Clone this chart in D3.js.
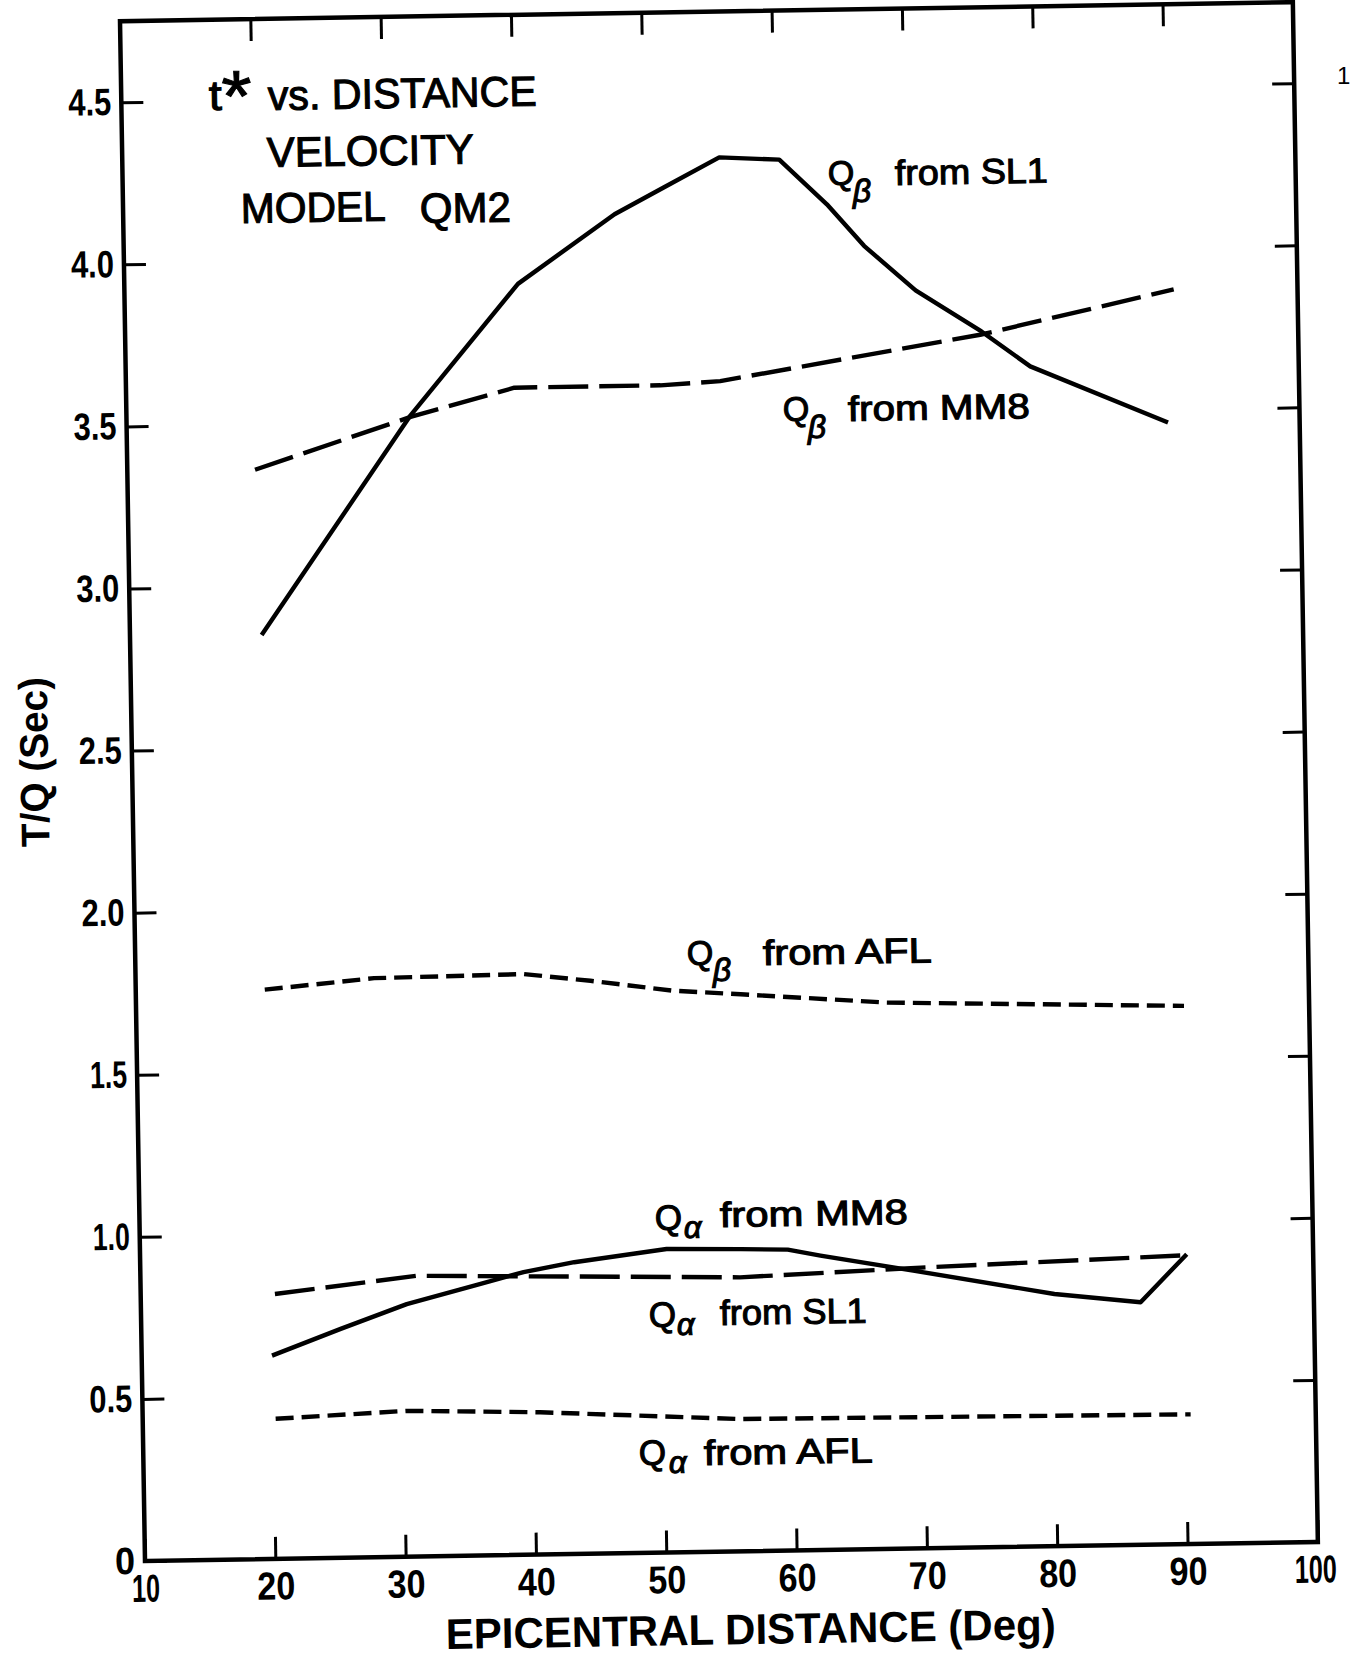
<!DOCTYPE html>
<html><head><meta charset="utf-8">
<script src="https://cdn.jsdelivr.net/npm/d3@7"></script>
<style>
html,body{margin:0;padding:0;background:#fff;}
svg{display:block;background:#fff;}
text{font-family:"Liberation Sans",Arial,sans-serif;fill:#000;}
</style></head><body>
<svg id="chart" width="1353" height="1660"></svg>
<script>
// ---------------- data ----------------
const xTickValues = [10,20,30,40,50,60,70,80,90,100];
const xTickLabels = ["10","20","30","40","50","60","70","80","90","100"];
const yTickValues = [0,0.5,1.0,1.5,2.0,2.5,3.0,3.5,4.0,4.5];
const yTickLabels = ["0","0.5","1.0","1.5","2.0","2.5","3.0","3.5","4.0","4.5"];

// [epicentral distance (deg), T/Q (sec)]
const qBetaSL1 = [[20.1,2.85],[31.8,3.52],[40.2,3.92],[47.7,4.13],[51.5,4.21],[55.8,4.30],[60.4,4.29],[64.0,4.15],[66.8,4.02],[70.7,3.88],[75.7,3.75],[79.4,3.64],[89.9,3.46]];
const qBetaMM8 = [[19.8,3.36],[31.8,3.515],[39.8,3.60],[51.0,3.60],[55.6,3.61],[75.6,3.74],[90.5,3.87]];
const qBetaAFL = [[19.9,1.756],[28.3,1.786],[39.8,1.791],[44.9,1.767],[51.3,1.732],[56.4,1.718],[67.6,1.685],[90.4,1.660]];
const qAlphaMM8 = [[20.3,0.817],[31.2,0.866],[56.0,0.845],[69.9,0.866],[90.3,0.891]];
const qAlphaSL1 = [[20.0,0.627],[25.3,0.706],[30.4,0.779],[35.6,0.833],[39.4,0.872],[43.3,0.900],[50.4,0.936],[56.1,0.932],[59.7,0.928],[62.2,0.908],[69.3,0.857],[80.1,0.778],[86.7,0.748],[90.3,0.894]];
const qAlphaAFL = [[20.2,0.432],[30.3,0.450],[40.5,0.439],[55.9,0.408],[90.4,0.400]];

const seriesNames = ["Qβ from SL1","Qβ from MM8","Qβ from AFL","Qα from MM8","Qα from SL1","Qα from AFL"];

// ---------------- layout ----------------
const X0 = 145, Y0 = 1561, ANGLE = -0.93;   // scanned page is slightly rotated
const plotW = 1173, plotH = 1540;
const ra = ANGLE*Math.PI/180, ca = Math.cos(ra), sa = Math.sin(ra);
function toLocal(X,Y){ const dx=X-X0, dy=Y-Y0; return [dx*ca+dy*sa, -dx*sa+dy*ca]; }

const svg = d3.select("#chart");
const outer = svg.append("g").attr("transform",`translate(${X0},${Y0}) rotate(${ANGLE})`);
const plot = outer.append("g").attr("transform",`translate(0,${-plotH})`);

const x = d3.scaleLinear().domain([10,100]).range([0,plotW]);
const y = d3.scaleLinear().domain([0,4.75]).range([plotH,0]);

// frame
plot.append("rect").attr("x",0).attr("y",0).attr("width",plotW).attr("height",plotH)
  .attr("fill","none").attr("stroke","#000").attr("stroke-width",4.5);

function styleAxis(g){
  g.select(".domain").remove();
  g.selectAll(".tick line").attr("stroke","#000").attr("stroke-width",3);
}
const TK = 22;
const axBottom = plot.append("g").attr("transform",`translate(0,${plotH})`)
  .call(d3.axisBottom(x).tickValues(xTickValues).tickSize(-TK).tickPadding(13)
        .tickFormat((d,i)=>xTickLabels[i]));
styleAxis(axBottom);
axBottom.selectAll(".tick text").attr("font-size",39).attr("font-weight","bold").attr("fill","#000")
  .attr("textLength",d=> d===10?28:(d===100?42:38)).attr("lengthAdjust","spacingAndGlyphs");
axBottom.selectAll(".tick").filter(d=>d===100).select("text").attr("dx",-3);

const axTop = plot.append("g")
  .call(d3.axisTop(x).tickValues(xTickValues.slice(1,-1)).tickSize(-TK).tickFormat(""));
styleAxis(axTop);

const axLeft = plot.append("g")
  .call(d3.axisLeft(y).tickValues(yTickValues).tickSize(-TK).tickPadding(10)
        .tickFormat((d,i)=>yTickLabels[i]));
styleAxis(axLeft);
axLeft.selectAll(".tick text").attr("font-size",38).attr("font-weight","bold").attr("fill","#000")
  .attr("textLength",(d,i)=> d===0?20:(yTickLabels[i][0]==="1"?37:43)).attr("lengthAdjust","spacingAndGlyphs");

const axRight = plot.append("g").attr("transform",`translate(${plotW},0)`)
  .call(d3.axisRight(y).tickValues(yTickValues.slice(1)).tickSize(-TK).tickFormat(""));
styleAxis(axRight);

// curves
const line = d3.line().x(d=>x(d[0])).y(d=>y(d[1]));
const seriesData = [qBetaSL1,qBetaMM8,qBetaAFL,qAlphaMM8,qAlphaSL1,qAlphaAFL];
const dashes = [null,"40,11","18,8","40,11",null,"18,8"];
plot.selectAll("path.series").data(seriesData).join("path").attr("class","series")
  .attr("d",line).attr("fill","none").attr("stroke","#000").attr("stroke-width",4.4)
  .attr("stroke-linejoin","round").attr("stroke-dasharray",(d,i)=>dashes[i]);

// ---------------- annotation text (screen position of baseline-left) ----------------
const annotations = [
  {t:"t", X:209, Y:110, s:42, w:13},
  {t:"*", X:222, Y:121, s:72, w:30},
  {t:"vs. DISTANCE", X:268, Y:110, s:42, w:269},
  {t:"VELOCITY", X:267, Y:167, s:42, w:207},
  {t:"MODEL", X:241, Y:223, s:42, w:145},
  {t:"QM2", X:420, Y:223, s:42, w:91},
  {t:"Q", X:828, Y:185, s:34},
  {t:"β", X:853, Y:202, s:32, it:true},
  {t:"from SL1", X:895, Y:185, s:35, w:153},
  {t:"Q", X:783, Y:421, s:34},
  {t:"β", X:808, Y:438, s:32, it:true},
  {t:"from MM8", X:848, Y:421, s:35, w:182},
  {t:"Q", X:687, Y:965, s:34},
  {t:"β", X:713, Y:981, s:32, it:true},
  {t:"from AFL", X:763, Y:965, s:35, w:169},
  {t:"Q", X:655, Y:1230, s:35},
  {t:"α", X:684, Y:1238, s:31, it:true},
  {t:"from MM8", X:720, Y:1227, s:35, w:188},
  {t:"Q", X:649, Y:1327, s:35},
  {t:"α", X:677, Y:1335, s:31, it:true},
  {t:"from SL1", X:720, Y:1325, s:35, w:147},
  {t:"Q", X:639, Y:1465, s:35},
  {t:"α", X:669, Y:1473, s:31, it:true},
  {t:"from AFL", X:704, Y:1465, s:35, w:169}
];
annotations.forEach(a=>{
  const [lx,ly] = toLocal(a.X,a.Y);
  const t = outer.append("text").attr("x",lx).attr("y",ly).attr("font-size",a.s)
    .attr("stroke","#000").attr("stroke-width",1.1).text(a.t);
  if(a.w) t.attr("textLength",a.w).attr("lengthAdjust","spacingAndGlyphs");
  if(a.it) t.attr("font-style","italic");
});

// axis titles
{
  const [lx,ly] = toLocal(446,1649);
  outer.append("text").attr("x",lx).attr("y",ly).attr("font-size",43).attr("font-weight","bold")
    .attr("textLength",610).attr("lengthAdjust","spacingAndGlyphs")
    .text("EPICENTRAL  DISTANCE (Deg)");
}
{
  const [lx,ly] = toLocal(34,762);
  outer.append("text").attr("transform",`translate(${lx},${ly}) rotate(-90)`)
    .attr("text-anchor","middle").attr("dominant-baseline","central")
    .attr("font-size",40).attr("font-weight","bold")
    .attr("textLength",170).attr("lengthAdjust","spacingAndGlyphs")
    .text("T/Q (Sec)");
}
// page number fragment at the right edge of the scan
svg.append("text").attr("x",1337).attr("y",84).attr("font-size",24)
  .attr("font-family","'Liberation Serif',serif").text("1");
</script>
</body></html>
